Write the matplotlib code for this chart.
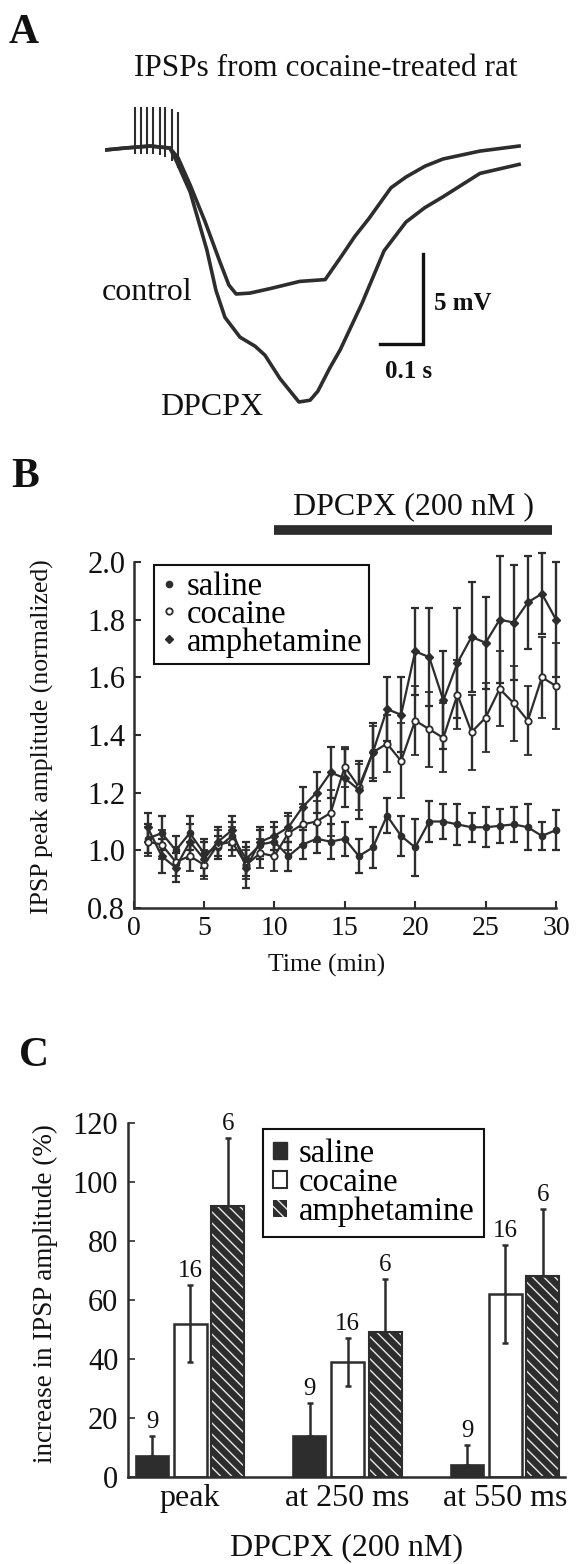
import matplotlib
matplotlib.use("Agg")
import numpy as np
import matplotlib.pyplot as plt
from matplotlib.lines import Line2D
from matplotlib.patches import Patch

plt.rcParams['font.family'] = ['Liberation Serif', 'DejaVu Serif']
plt.rcParams['hatch.linewidth'] = 1.0

# ---------------- panel A: IPSP traces (s, mV) ----------------
control_t = [0, 0.047, 0.105, 0.151, 0.170, 0.198, 0.233, 0.267, 0.288, 0.305,
             0.337, 0.384, 0.453, 0.512, 0.547, 0.581, 0.614, 0.665, 0.70,
             0.744, 0.786, 0.872, 0.963]
control_mv = [0, 0.11, 0.22, 0.11, -0.44, -1.94, -4.0, -6.2, -7.5, -8.0,
              -7.95, -7.7, -7.3, -7.2, -6.0, -4.8, -3.8, -2.1, -1.5,
              -0.9, -0.5, -0.06, 0.22]
dpcpx_t = [0, 0.047, 0.105, 0.151, 0.165, 0.198, 0.237, 0.258, 0.279, 0.314,
           0.349, 0.372, 0.407, 0.451, 0.477, 0.495, 0.523, 0.547, 0.598,
           0.649, 0.70, 0.744, 0.786, 0.872, 0.963]
dpcpx_mv = [0, 0.11, 0.22, 0.11, -0.56, -2.33, -5.56, -7.8, -9.3, -10.4,
            -10.9, -11.4, -12.7, -14.0, -13.9, -13.4, -12.1, -11.1, -8.5,
            -5.6, -4.0, -3.2, -2.6, -1.3, -0.8]
spike_t = [0.069, 0.084, 0.098, 0.112, 0.127, 0.140, 0.155, 0.170]
spike_top = [2.4, 2.4, 2.4, 2.4, 2.4, 2.4, 2.3, 2.1]
spike_base = [-0.2, -0.2, -0.2, -0.2, -0.3, -0.4, -0.6, -1.0]
scale_s, scale_mv = 0.1, 5

# ---------------- panel B: time course ----------------
minutes = list(range(1, 31))
saline_amp = [1.04, 1.06, 1.00, 1.06, 0.99, 1.01, 1.05, 0.97, 1.02, 1.03,
              0.98, 1.02, 1.04, 1.03, 1.04, 0.98, 1.01, 1.12, 1.05, 1.01,
              1.10, 1.10, 1.09, 1.08, 1.08, 1.085, 1.09, 1.08, 1.05, 1.07]
saline_err = [0.05, 0.06, 0.05, 0.06, 0.05, 0.04, 0.05, 0.06, 0.05, 0.05,
              0.05, 0.05, 0.05, 0.06, 0.06, 0.06, 0.07, 0.06, 0.07, 0.10,
              0.07, 0.06, 0.07, 0.05, 0.07, 0.06, 0.06, 0.08, 0.05, 0.07]
cocaine_amp = [1.03, 1.02, 0.96, 0.98, 0.95, 1.02, 1.03, 0.95, 0.99, 0.98,
               1.06, 1.09, 1.10, 1.13, 1.29, 1.22, 1.34, 1.37, 1.31, 1.45,
               1.42, 1.39, 1.54, 1.41, 1.46, 1.56, 1.51, 1.45, 1.60, 1.57]
cocaine_err = [0.05, 0.05, 0.05, 0.05, 0.05, 0.05, 0.05, 0.05, 0.05, 0.05,
               0.06, 0.07, 0.07, 0.08, 0.07, 0.08, 0.09, 0.10, 0.13, 0.12,
               0.13, 0.12, 0.12, 0.13, 0.12, 0.13, 0.13, 0.12, 0.14, 0.15]
amph_amp = [1.08, 0.98, 0.94, 1.03, 0.97, 1.03, 1.07, 0.94, 1.03, 1.05,
            1.08, 1.15, 1.20, 1.27, 1.25, 1.21, 1.34, 1.49, 1.47, 1.69,
            1.67, 1.52, 1.65, 1.74, 1.72, 1.80, 1.79, 1.86, 1.89, 1.80]
amph_err = [0.05, 0.06, 0.05, 0.06, 0.06, 0.05, 0.05, 0.07, 0.05, 0.05,
            0.05, 0.07, 0.07, 0.09, 0.10, 0.10, 0.10, 0.11, 0.13, 0.15,
            0.17, 0.17, 0.19, 0.19, 0.16, 0.22, 0.20, 0.16, 0.14, 0.20]
drug_on, drug_off = 10, 29.7

# ---------------- panel C: bar chart ----------------
groups = ['peak', 'at 250 ms', 'at 550 ms']
saline_inc = [7, 14, 4]
saline_se = [7, 11, 7]
cocaine_inc = [52, 39, 62]
cocaine_se = [13, 8, 16.5]
amph_inc = [92, 49, 68]
amph_se = [23, 18, 23]
n_saline, n_cocaine, n_amph = 9, 16, 6

DARK = '#2d2d2d'
INK = '#111111'
W, H = 579, 1564


def box(l, t, r, b):
    return [l / W, 1 - b / H, (r - l) / W, (b - t) / H]


fig = plt.figure(figsize=(W / 100, H / 100), dpi=100)

# ---- A ----
fig.text(24 / W, 1 - 33 / H, 'A', fontsize=30, fontweight='bold', ha='center', va='center', color=INK)
fig.text(326 / W, 1 - 68 / H, 'IPSPs from cocaine-treated rat', fontsize=22.5,
         ha='center', va='center', color=INK)
ax_a = fig.add_axes(box(105, 96, 535, 438))
ax_a.set_xlim(0, 1.0)
ax_a.set_ylim(-16, 3)
ax_a.axis('off')
ax_a.plot(control_t, control_mv, color=DARK, lw=2.6)
ax_a.plot(dpcpx_t, dpcpx_mv, color=DARK, lw=2.6)
ax_a.vlines(spike_t, spike_base, spike_top, color=DARK, lw=1.5)
sb_x, sb_y = 0.64, -10.8
ax_a.plot([sb_x, sb_x + scale_s, sb_x + scale_s], [sb_y, sb_y, sb_y + scale_mv],
          color=INK, lw=2.4, solid_joinstyle='miter')
ax_a.text(sb_x + scale_s + 0.025, sb_y + 2.3, '5 mV', fontsize=18, fontweight='bold',
          ha='left', va='center', color=INK)
ax_a.text(sb_x + scale_s / 2 + 0.017, sb_y - 1.5, '0.1 s', fontsize=18, fontweight='bold',
          ha='center', va='center', color=INK)
ax_a.text(0.098, -7.9, 'control', fontsize=23, ha='center', va='center', color=INK)
ax_a.text(0.249, -14.3, 'DPCPX', fontsize=23, ha='center', va='center', color=INK)

# ---- B ----
fig.text(25 / W, 1 - 477 / H, 'B', fontsize=30, fontweight='bold', ha='center', va='center', color=INK)
ax_b = fig.add_axes(box(133.5, 562, 556, 908))
ax_b.set_xlim(0, 30)
ax_b.set_ylim(0.8, 2.0)
eb = dict(color=DARK, ecolor=DARK, lw=1.6, elinewidth=1.7, capsize=3.2, capthick=1.6,
          clip_on=False)
ax_b.errorbar(minutes, saline_amp, yerr=saline_err, fmt='-o', ms=4.5, mfc=DARK, mec=DARK, **eb)
ax_b.errorbar(minutes, cocaine_amp, yerr=cocaine_err, fmt='-o', ms=4.6, mfc='white', mec=DARK,
              mew=1.3, **eb)
ax_b.errorbar(minutes, amph_amp, yerr=amph_err, fmt='-D', ms=4.2, mfc=DARK, mec=DARK, **eb)
ax_b.plot([drug_on, drug_off], [2.11, 2.11], color=DARK, lw=7, solid_capstyle='butt', clip_on=False)
ax_b.text((drug_on + drug_off) / 2, 2.19, 'DPCPX (200 nM )', fontsize=23, ha='center',
          va='center', color=INK)
for s in ['top', 'right']:
    ax_b.spines[s].set_visible(False)
for s in ['left', 'bottom']:
    ax_b.spines[s].set_linewidth(1.8)
    ax_b.spines[s].set_color(DARK)
ax_b.set_xticks([0, 5, 10, 15, 20, 25, 30])
ax_b.set_yticks([0.8, 1.0, 1.2, 1.4, 1.6, 1.8, 2.0])
ax_b.set_yticklabels(['0.8', '1.0', '1.2', '1.4', '1.6', '1.8', '2.0'])
ax_b.tick_params(direction='in', length=5, width=1.5, color=DARK, labelcolor=INK)
ax_b.tick_params(axis='y', labelsize=22, pad=6)
ax_b.tick_params(axis='x', labelsize=20, pad=6)
ax_b.set_xlabel('Time (min)', fontsize=18.5, color=INK)
ax_b.xaxis.set_label_coords((327 - 133.5) / 422.5, (908 - 965) / 346)
ax_b.xaxis.label.set_va('center')
ax_b.set_ylabel('IPSP peak amplitude (normalized)', fontsize=18.5, color=INK)
ax_b.yaxis.set_label_coords((42 - 133.5) / 422.5, (908 - 737) / 346)
ax_b.yaxis.label.set_va('center')
ax_b.yaxis.label.set_rotation_mode('default')
hb = [Line2D([], [], ls='none', marker='o', ms=4.5, mfc=DARK, mec=DARK),
      Line2D([], [], ls='none', marker='o', ms=4.6, mfc='white', mec=DARK, mew=1.3),
      Line2D([], [], ls='none', marker='D', ms=4.2, mfc=DARK, mec=DARK)]
leg_b = ax_b.legend(hb, ['saline', 'cocaine', 'amphetamine'], loc='upper left',
                    bbox_to_anchor=((154 - 133.5) / 422.5, (908 - 565) / 346), borderaxespad=0,
                    fontsize=23.5, handlelength=0.5, handletextpad=0.3, labelspacing=-0.08,
                    borderpad=0.2, fancybox=False, edgecolor=INK, framealpha=1)
leg_b.get_frame().set_linewidth(1.5)

# ---- C ----
fig.text(34 / W, 1 - 1056 / H, 'C', fontsize=30, fontweight='bold', ha='center', va='center', color=INK)
ax_c = fig.add_axes(box(128, 1123, 565, 1477))
x = np.arange(len(groups))
off, bw = 0.24, 0.21
ax_c.bar(x - off, saline_inc, bw, color=DARK, edgecolor=DARK, lw=1.2)
ax_c.bar(x, cocaine_inc, bw, color='white', edgecolor=DARK, lw=1.8)
ax_c.bar(x + off, amph_inc, bw, color=DARK, edgecolor='#e8e8e8', hatch='\\\\\\', lw=0)
ax_c.bar(x + off, amph_inc, bw, fill=False, edgecolor=DARK, lw=1.5)
zero = [0] * len(groups)
ceb = dict(fmt='none', ecolor=DARK, elinewidth=1.8, capsize=2.5, capthick=1.8)
ax_c.errorbar(x - off, saline_inc, yerr=[zero, saline_se], **ceb)
ax_c.errorbar(x, cocaine_inc, yerr=cocaine_se, **ceb)
ax_c.errorbar(x + off, amph_inc, yerr=[zero, amph_se], **ceb)
for xs, means, ses, n in [(x - off, saline_inc, saline_se, n_saline),
                          (x, cocaine_inc, cocaine_se, n_cocaine),
                          (x + off, amph_inc, amph_se, n_amph)]:
    for xi, m, s in zip(xs, means, ses):
        ax_c.text(xi, m + s + 1, str(n), fontsize=18, ha='center', va='bottom', color=INK)
ax_c.set_xlim(-0.394, 2.38)
ax_c.set_ylim(0, 120)
ax_c.set_xticks(x)
ax_c.set_xticklabels(groups)
ax_c.set_yticks([0, 20, 40, 60, 80, 100, 120])
for s in ['top', 'right']:
    ax_c.spines[s].set_visible(False)
for s in ['left', 'bottom']:
    ax_c.spines[s].set_linewidth(1.8)
    ax_c.spines[s].set_color(DARK)
ax_c.tick_params(axis='y', direction='in', length=5, width=1.2, color=DARK, labelsize=22,
                 pad=7, labelcolor=INK)
ax_c.tick_params(axis='x', length=0, labelsize=23, pad=5, labelcolor=INK)
ax_c.set_xlabel('DPCPX (200 nM)', fontsize=23, color=INK)
ax_c.xaxis.set_label_coords((347 - 128) / 437, (1477 - 1548) / 354)
ax_c.xaxis.label.set_va('center')
ax_c.set_ylabel('increase in IPSP amplitude (%)', fontsize=19.5, color=INK)
ax_c.yaxis.set_label_coords((45 - 128) / 437, (1477 - 1294) / 354)
ax_c.yaxis.label.set_va('center')
ax_c.yaxis.label.set_rotation_mode('default')
hc = [Patch(facecolor=DARK, edgecolor=DARK),
      Patch(facecolor='white', edgecolor=DARK, lw=1.5),
      Patch(facecolor=DARK, edgecolor='#e8e8e8', hatch='\\\\\\', lw=0)]
leg_c = ax_c.legend(hc, ['saline', 'cocaine', 'amphetamine'], loc='upper left',
                    bbox_to_anchor=((263 - 128) / 437, (1477 - 1129) / 354), borderaxespad=0,
                    fontsize=23.5, handlelength=0.45, handleheight=0.45, handletextpad=0.35,
                    labelspacing=-0.05, borderpad=0.3, fancybox=False, edgecolor=INK, framealpha=1)
leg_c.get_frame().set_linewidth(1.5)

fig.savefig('out.png', dpi=100, facecolor='white')
